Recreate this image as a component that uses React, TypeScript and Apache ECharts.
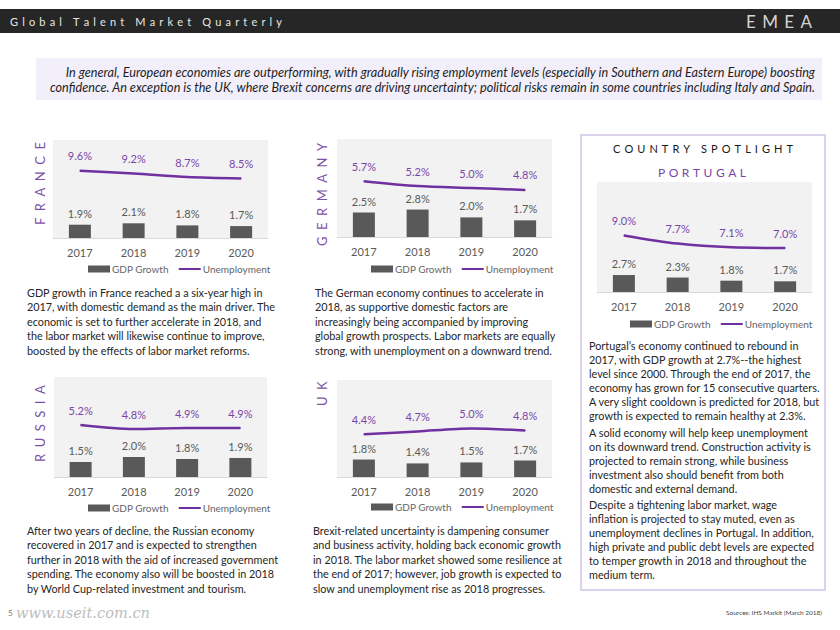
import React, { useEffect, useRef } from 'react';
import * as echarts from 'echarts';

const years = ['2017', '2018', '2019', '2020'];

const franceGdp = [1.9, 2.1, 1.8, 1.7];
const franceUnemp = [9.6, 9.2, 8.7, 8.5];
const germanyGdp = [2.5, 2.8, 2.0, 1.7];
const germanyUnemp = [5.7, 5.2, 5.0, 4.8];
const russiaGdp = [1.5, 2.0, 1.8, 1.9];
const russiaUnemp = [5.2, 4.8, 4.9, 4.9];
const ukGdp = [1.8, 1.4, 1.5, 1.7];
const ukUnemp = [4.4, 4.7, 5.0, 4.8];
const portugalGdp = [2.7, 2.3, 1.8, 1.7];
const portugalUnemp = [9.0, 7.7, 7.1, 7.0];

const seriesNames = ['GDP Growth', 'Unemployment'];

const headerTitle = 'Global Talent Market Quarterly';
const headerRegion = 'EMEA';
const introLines = [
  'In general, European economies are outperforming, with gradually rising employment levels (especially in Southern and Eastern Europe) boosting',
  'confidence. An exception is the UK, where Brexit concerns are driving uncertainty; political risks remain in some countries including Italy and Spain.',
];
const franceText = [
  'GDP growth in France reached a a six-year high in',
  '2017, with domestic demand as the main driver. The',
  'economic is set to further accelerate in 2018, and',
  'the labor market will likewise continue to improve,',
  'boosted by the effects of labor market reforms.',
];
const germanyText = [
  'The German economy continues to accelerate in',
  '2018, as supportive domestic factors are',
  'increasingly being accompanied by improving',
  'global growth prospects. Labor markets are equally',
  'strong, with unemployment on a downward trend.',
];
const russiaText = [
  'After two years of decline, the Russian economy',
  'recovered in 2017 and is expected to strengthen',
  'further in 2018 with the aid of increased government',
  'spending. The economy also will be boosted in 2018',
  'by World Cup-related investment and tourism.',
];
const ukText = [
  'Brexit-related uncertainty is dampening consumer',
  'and business activity, holding back economic growth',
  'in 2018. The labor market showed some resilience at',
  'the end of 2017; however, job growth is expected to',
  'slow and unemployment rise as 2018 progresses.',
];
const portugalP1 = [
  'Portugal\u2019s economy continued to rebound in',
  '2017, with GDP growth at 2.7%--the highest',
  'level since 2000. Through the end of 2017, the',
  'economy has grown for 15 consecutive quarters.',
  'A very slight cooldown is predicted for 2018, but',
  'growth is expected to remain healthy at 2.3%.',
];
const portugalP2 = [
  'A solid economy will help keep unemployment',
  'on its downward trend. Construction activity is',
  'projected to remain strong, while business',
  'investment also should benefit from both',
  'domestic and external demand.',
];
const portugalP3 = [
  'Despite a tightening labor market, wage',
  'inflation is projected to stay muted, even as',
  'unemployment declines in Portugal. In addition,',
  'high private and public debt levels are expected',
  'to temper growth in 2018 and throughout the',
  'medium term.',
];
const spotlightTitle = 'COUNTRY SPOTLIGHT';
const sourcesText = 'Sources: IHS Markit (March 2018)';
const pageNumber = '5';
const watermark = 'www.useit.com.cn';

const FAMILY = 'Lato, "Open Sans", "DejaVu Sans", sans-serif';
const PURPLE = '#7030a0';
const LABEL_PURPLE = '#7a45a8';
const GRAY = '#595959';

let ctx: any = null;
function textWidth(t: string, size: number, opts: any = {}) {
  if (!ctx) ctx = document.createElement('canvas').getContext('2d');
  ctx.font = `${opts.italic ? 'italic ' : ''}${opts.weight || 'normal'} ${size}px ${opts.family || FAMILY}`;
  return ctx.measureText(t).width;
}
function fitSize(t: string, target: number, opts: any = {}) {
  return (10 * target) / textWidth(t, 10, opts);
}

function spacedText(str: string, size: number, color: string, o: any) {
  const chars = Array.from(str);
  const weight = o.weight || 'normal';
  const ws = chars.map((c) => textWidth(c, size, { weight }));
  const sum = ws.reduce((a, b) => a + b, 0);
  const sp = o.width != null ? (o.width - sum) / (chars.length - 1) : o.spacing;
  const total = sum + sp * (chars.length - 1);
  let cx = o.align === 'center' ? -total / 2 : o.align === 'right' ? -total : 0;
  const children = chars.map((c, i) => {
    const el = {
      type: 'text',
      x: cx,
      y: 0,
      style: {
        text: c,
        fontSize: size,
        fontFamily: FAMILY,
        fontWeight: weight,
        fill: color,
        textAlign: 'left',
        textVerticalAlign: 'middle',
      },
    };
    cx += ws[i] + sp;
    return el;
  });
  return { type: 'group', x: o.x, y: o.y, rotation: o.rotation || 0, children };
}

function paragraph(lines: string[], x: number, y0: number, lh: number, size: number) {
  return lines.map((l, i) => ({
    type: 'text',
    x,
    y: y0 + i * lh,
    style: {
      text: l,
      fontSize: size,
      fontFamily: FAMILY,
      fill: '#262626',
      textAlign: 'left',
      textVerticalAlign: 'middle',
    },
  }));
}

const panels = [
  { name: 'FRANCE', gdp: franceGdp, unemp: franceUnemp, max: 14, grid: { left: 53, top: 140, width: 215, height: 98 }, legend: { left: 88, top: 264 }, label: { x: 40, y: 225 } },
  { name: 'GERMANY', gdp: germanyGdp, unemp: germanyUnemp, max: 10, grid: { left: 337, top: 139, width: 215, height: 98 }, legend: { left: 371, top: 264 }, label: { x: 322, y: 246 } },
  { name: 'RUSSIA', gdp: russiaGdp, unemp: russiaUnemp, max: 10, grid: { left: 54, top: 377, width: 213, height: 100 }, legend: { left: 88, top: 503 }, label: { x: 40, y: 462 } },
  { name: 'UK', gdp: ukGdp, unemp: ukUnemp, max: 10, grid: { left: 337, top: 380, width: 215, height: 97 }, legend: { left: 371, top: 502 }, label: { x: 322, y: 406 } },
  { name: 'PORTUGAL', gdp: portugalGdp, unemp: portugalUnemp, max: 17.5, grid: { left: 597, top: 182, width: 215, height: 110 }, legend: { left: 630, top: 319 }, label: null },
];

function buildOption() {
  const fmt = (p: any) => Number(p.value).toFixed(1) + '%';
  const grid: any[] = [];
  const xAxis: any[] = [];
  const yAxis: any[] = [];
  const series: any[] = [];
  const legend: any[] = [];
  panels.forEach((c, i) => {
    grid.push({ ...c.grid, show: true, backgroundColor: '#f2f2f2', borderWidth: 0, containLabel: false });
    xAxis.push({
      type: 'category',
      gridIndex: i,
      data: years,
      axisTick: { show: false },
      axisLine: { lineStyle: { color: '#d9d9d9', width: 1 } },
      axisLabel: { color: GRAY, fontSize: 11, margin: 9, fontFamily: FAMILY },
    });
    yAxis.push({ type: 'value', gridIndex: i, min: 0, max: c.max, show: false });
    series.push({
      type: 'bar',
      name: seriesNames[0],
      xAxisIndex: i,
      yAxisIndex: i,
      data: c.gdp,
      barWidth: 22,
      itemStyle: { color: GRAY },
      label: { show: true, position: 'top', distance: 6, color: GRAY, fontSize: 11, fontFamily: FAMILY, formatter: fmt },
    });
    series.push({
      type: 'line',
      name: seriesNames[1],
      xAxisIndex: i,
      yAxisIndex: i,
      data: c.unemp,
      smooth: 0.3,
      symbol: 'circle',
      symbolSize: 1,
      lineStyle: { width: 2.5, color: PURPLE },
      itemStyle: { color: PURPLE },
      label: { show: true, position: 'top', distance: 9, color: LABEL_PURPLE, fontSize: 11, fontFamily: FAMILY, formatter: fmt },
    });
    legend.push({
      left: c.legend.left,
      top: c.legend.top,
      padding: 0,
      itemWidth: 22,
      itemHeight: 7,
      itemGap: 9,
      selectedMode: false,
      textStyle: { color: '#666666', fontSize: 10, fontFamily: FAMILY, padding: [0, 0, 0, -3] },
      data: [
        { name: seriesNames[0], icon: 'rect' },
        { name: seriesNames[1], itemStyle: { opacity: 0 } },
      ],
    });
  });

  const paraSize =
    (fitSize(franceText[1], 249) + fitSize(portugalP1[3], 231)) / 2;
  const introSize = fitSize(introLines[0], 751, { italic: true });

  const graphic: any[] = [
    { type: 'rect', shape: { x: 0, y: 9, width: 840, height: 24 }, style: { fill: '#262626' } },
    spacedText(headerTitle, 11, '#e6e6e6', { x: 10, y: 21, width: 272 }),
    spacedText(headerRegion, 17, '#d4d4d4', { x: 746, y: 21, width: 66 }),
    { type: 'rect', shape: { x: 36, y: 58, width: 786, height: 42 }, style: { fill: '#f2effb' } },
    ...introLines.map((l, i) => ({
      type: 'text',
      x: 815,
      y: 72 + i * 15,
      style: { text: l, fontSize: introSize, fontStyle: 'italic', fontFamily: FAMILY, fill: '#1e1e1e', textAlign: 'right', textVerticalAlign: 'middle' },
    })),
    { type: 'rect', shape: { x: 581, y: 135, width: 244, height: 455 }, style: { fill: 'none', stroke: '#dcd2ec', lineWidth: 2 } },
    spacedText(spotlightTitle, 11, '#1a1a1a', { x: 703, y: 148, width: 180, align: 'center' }),
    spacedText(panels[4].name, 12, LABEL_PURPLE, { x: 702, y: 172, width: 88, align: 'center' }),
    ...paragraph(franceText, 27, 292, 14.5, paraSize),
    ...paragraph(germanyText, 315, 292, 14.5, paraSize),
    ...paragraph(russiaText, 27, 530, 14.5, paraSize),
    ...paragraph(ukText, 313, 530, 14.5, paraSize),
    ...paragraph(portugalP1, 589, 345, 14, paraSize),
    ...paragraph(portugalP2, 589, 432, 14, paraSize),
    ...paragraph(portugalP3, 589, 504, 14, paraSize),
    {
      type: 'text', x: 8, y: 613,
      style: { text: pageNumber, fontSize: 8, fontFamily: FAMILY, fill: '#777', textAlign: 'left', textVerticalAlign: 'middle' },
    },
    {
      type: 'text', x: 16, y: 612,
      style: { text: watermark, fontSize: fitSize(watermark, 134, { italic: true, family: '"DejaVu Serif", serif' }), fontStyle: 'italic', fontFamily: '"DejaVu Serif", serif', fill: '#bdbdbd', textAlign: 'left', textVerticalAlign: 'middle' },
    },
    {
      type: 'text', x: 822, y: 612,
      style: { text: sourcesText, fontSize: fitSize(sourcesText, 96), fontFamily: FAMILY, fill: '#444', textAlign: 'right', textVerticalAlign: 'middle' },
    },
  ];
  panels.forEach((c) => {
    if (c.label) {
      graphic.push(spacedText(c.name, 13, '#7d52a8', { x: c.label.x, y: c.label.y, spacing: 6.5, rotation: Math.PI / 2 }));
    }
  });

  return {
    animation: false,
    backgroundColor: '#ffffff',
    grid,
    xAxis,
    yAxis,
    series,
    legend,
    graphic: { elements: graphic },
  };
}

export default function App() {
  const ref = useRef<HTMLDivElement>(null);
  useEffect(() => {
    if (!ref.current) return;
    const chart = echarts.init(ref.current, undefined, { renderer: 'svg' });
    chart.setOption(buildOption() as any);
    return () => chart.dispose();
  }, []);
  return (
    <div
      ref={ref}
      style={{ position: 'absolute', left: 0, top: 0, width: 840, height: 630 }}
    />
  );
}
